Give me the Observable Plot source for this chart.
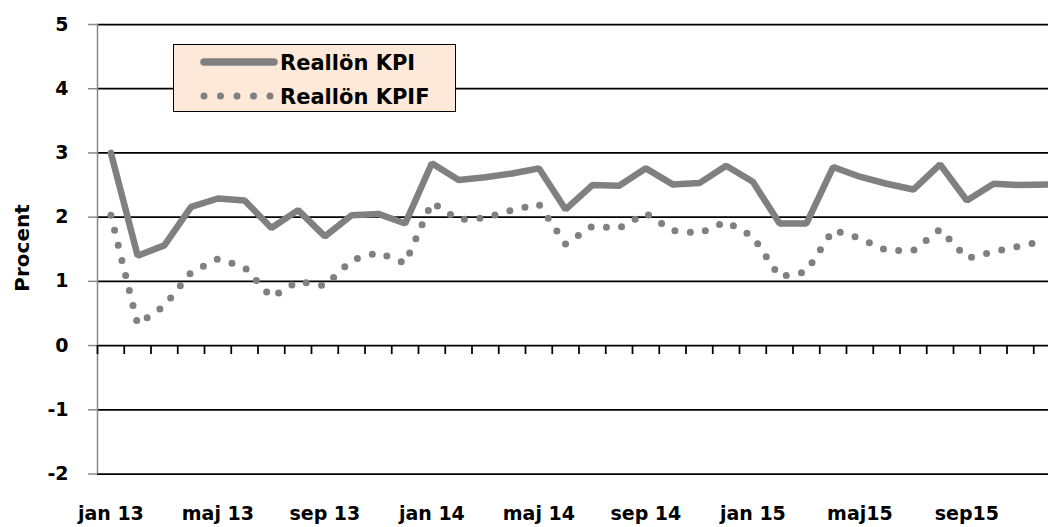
<!DOCTYPE html>
<html><head><meta charset="utf-8">
<script src="https://cdn.jsdelivr.net/npm/d3@7"></script>
<script src="https://cdn.jsdelivr.net/npm/@observablehq/plot@0.6"></script>
<style>
html,body{margin:0;padding:0;background:#fff;overflow:hidden;}
#wrap{position:relative;width:1048px;height:527px;overflow:hidden;}
#wrap svg{overflow:hidden;display:block;}
#legend{position:absolute;left:173px;top:44px;width:281px;height:66px;background:#FDE9D9;border:1.5px solid #000;}
</style></head>
<body><div id="wrap"><div id="legend"></div></div>
<script>
const months = ["jan 13","feb 13","mar 13","apr 13","maj 13","jun 13","jul 13","aug 13","sep 13","okt 13","nov 13","dec 13",
  "jan 14","feb 14","mar 14","apr 14","maj 14","jun 14","jul 14","aug 14","sep 14","okt 14","nov 14","dec 14",
  "jan 15","feb 15","mar 15","apr 15","maj 15","jun 15","jul 15","aug 15","sep 15","okt 15","nov 15","dec 15"];
const seriesNames = ["Reallön KPI", "Reallön KPIF"];
const kpi = [3.00,1.40,1.56,2.16,2.29,2.26,1.83,2.11,1.70,2.03,2.05,1.90,
  2.84,2.58,2.62,2.68,2.76,2.12,2.50,2.49,2.76,2.51,2.53,2.80,
  2.55,1.90,1.90,2.78,2.63,2.52,2.43,2.82,2.26,2.52,2.50,2.51];
const kpif = [2.03,0.33,0.62,1.14,1.35,1.22,0.75,1.00,0.93,1.33,1.45,1.28,
  2.23,1.96,1.99,2.11,2.20,1.58,1.86,1.83,2.06,1.79,1.75,1.93,
  1.70,1.07,1.15,1.80,1.67,1.48,1.48,1.81,1.36,1.46,1.55,1.64];
const tickMonths = ["jan 13","maj 13","sep 13","jan 14","maj 14","sep 14","jan 15","maj 15","sep 15"];
const tickLabels = ["jan 13","maj 13","sep 13","jan 14","maj 14","sep 14","jan 15","maj15","sep15"];
const yTicks = [-2,-1,0,1,2,3,4,5];
const yLabel = "Procent";

const FONT = "'DejaVu Sans', sans-serif";
const GREY = "#808080";

const rows = (vals, s) => vals.map((v, i) => ({pos: i + 0.5, month: months[i], series: s, value: v}));
const kpiRows = rows(kpi, seriesNames[0]);
const kpifRows = rows(kpif, seriesNames[1]);
const tickPos = tickMonths.map(m => months.indexOf(m) + 0.5);
const labelAt = p => tickLabels[tickPos.indexOf(p)];
const bounds = d3.range(months.length + 1);

const chart = Plot.plot({
  width: 1048, height: 527,
  marginLeft: 97, marginTop: 24, marginBottom: 53.5, marginRight: -12,
  x: {domain: [0, months.length], range: [97, 1060], label: null},
  y: {domain: [-2, 5], range: [473.5, 24], label: null},
  style: {fontFamily: FONT, fontWeight: "bold", fontSize: "19px", color: "#000", background: "#fff", overflow: "hidden"},
  marks: [
    Plot.ruleY(yTicks, {y: d => d, x1: 0, x2: months.length, stroke: "#000", strokeWidth: 1.75}),
    Plot.ruleX([0], {x: d => d, y1: -2, y2: 5, stroke: "#888", strokeWidth: 1.5}),
    Plot.ruleY(yTicks, {y: d => d, x1: 0, x2: 0, insetLeft: -9, stroke: "#888", strokeWidth: 1.5}),
    Plot.ruleX(bounds, {x: d => d, y1: 0, y2: 0, insetBottom: -9, stroke: "#000", strokeWidth: 1.75}),
    Plot.axisY({ticks: yTicks, tickSize: 0, tickPadding: 29, tickFormat: d => String(d), fontSize: 19, fontWeight: "bold", fill: "#000", label: null}),
    Plot.axisX({ticks: tickPos, tickSize: 0, tickPadding: 32, tickFormat: labelAt, fontSize: 19, fontWeight: "bold", fill: "#000", label: null}),
    Plot.line(kpiRows, {x: "pos", y: "value", stroke: GREY, strokeWidth: 6.5, strokeLinejoin: "miter"}),
    Plot.line(kpifRows, {x: "pos", y: "value", stroke: GREY, strokeWidth: 7, strokeDasharray: "0 15.5", strokeLinecap: "round"})
  ]
});

d3.select(chart).append("text")
  .attr("transform", "translate(22,248) rotate(-90)")
  .attr("text-anchor", "middle")
  .attr("dominant-baseline", "central")
  .attr("font-family", FONT).attr("font-weight", "bold").attr("font-size", 20)
  .attr("fill", "#000")
  .text(yLabel);

document.getElementById("wrap").insertBefore(chart, document.getElementById("legend"));

// legend
const lg = d3.select("#legend").append("svg").attr("width", 281).attr("height", 66);
const items = lg.selectAll("g").data(seriesNames).join("g")
  .attr("transform", (d, i) => `translate(0,${17 + i * 34})`);
items.append("line")
  .attr("x1", 30).attr("x2", 100).attr("y1", 0).attr("y2", 0)
  .attr("stroke", GREY).attr("stroke-width", (d, i) => i === 0 ? 7.5 : 7)
  .attr("stroke-linecap", "round")
  .attr("stroke-dasharray", (d, i) => i === 0 ? null : "0 16.5");
items.append("text")
  .attr("x", 106).attr("y", 0).attr("dy", "0.36em")
  .attr("font-family", FONT).attr("font-weight", "bold").attr("font-size", 21)
  .attr("fill", "#000")
  .text(d => d);
</script>
</body></html>
